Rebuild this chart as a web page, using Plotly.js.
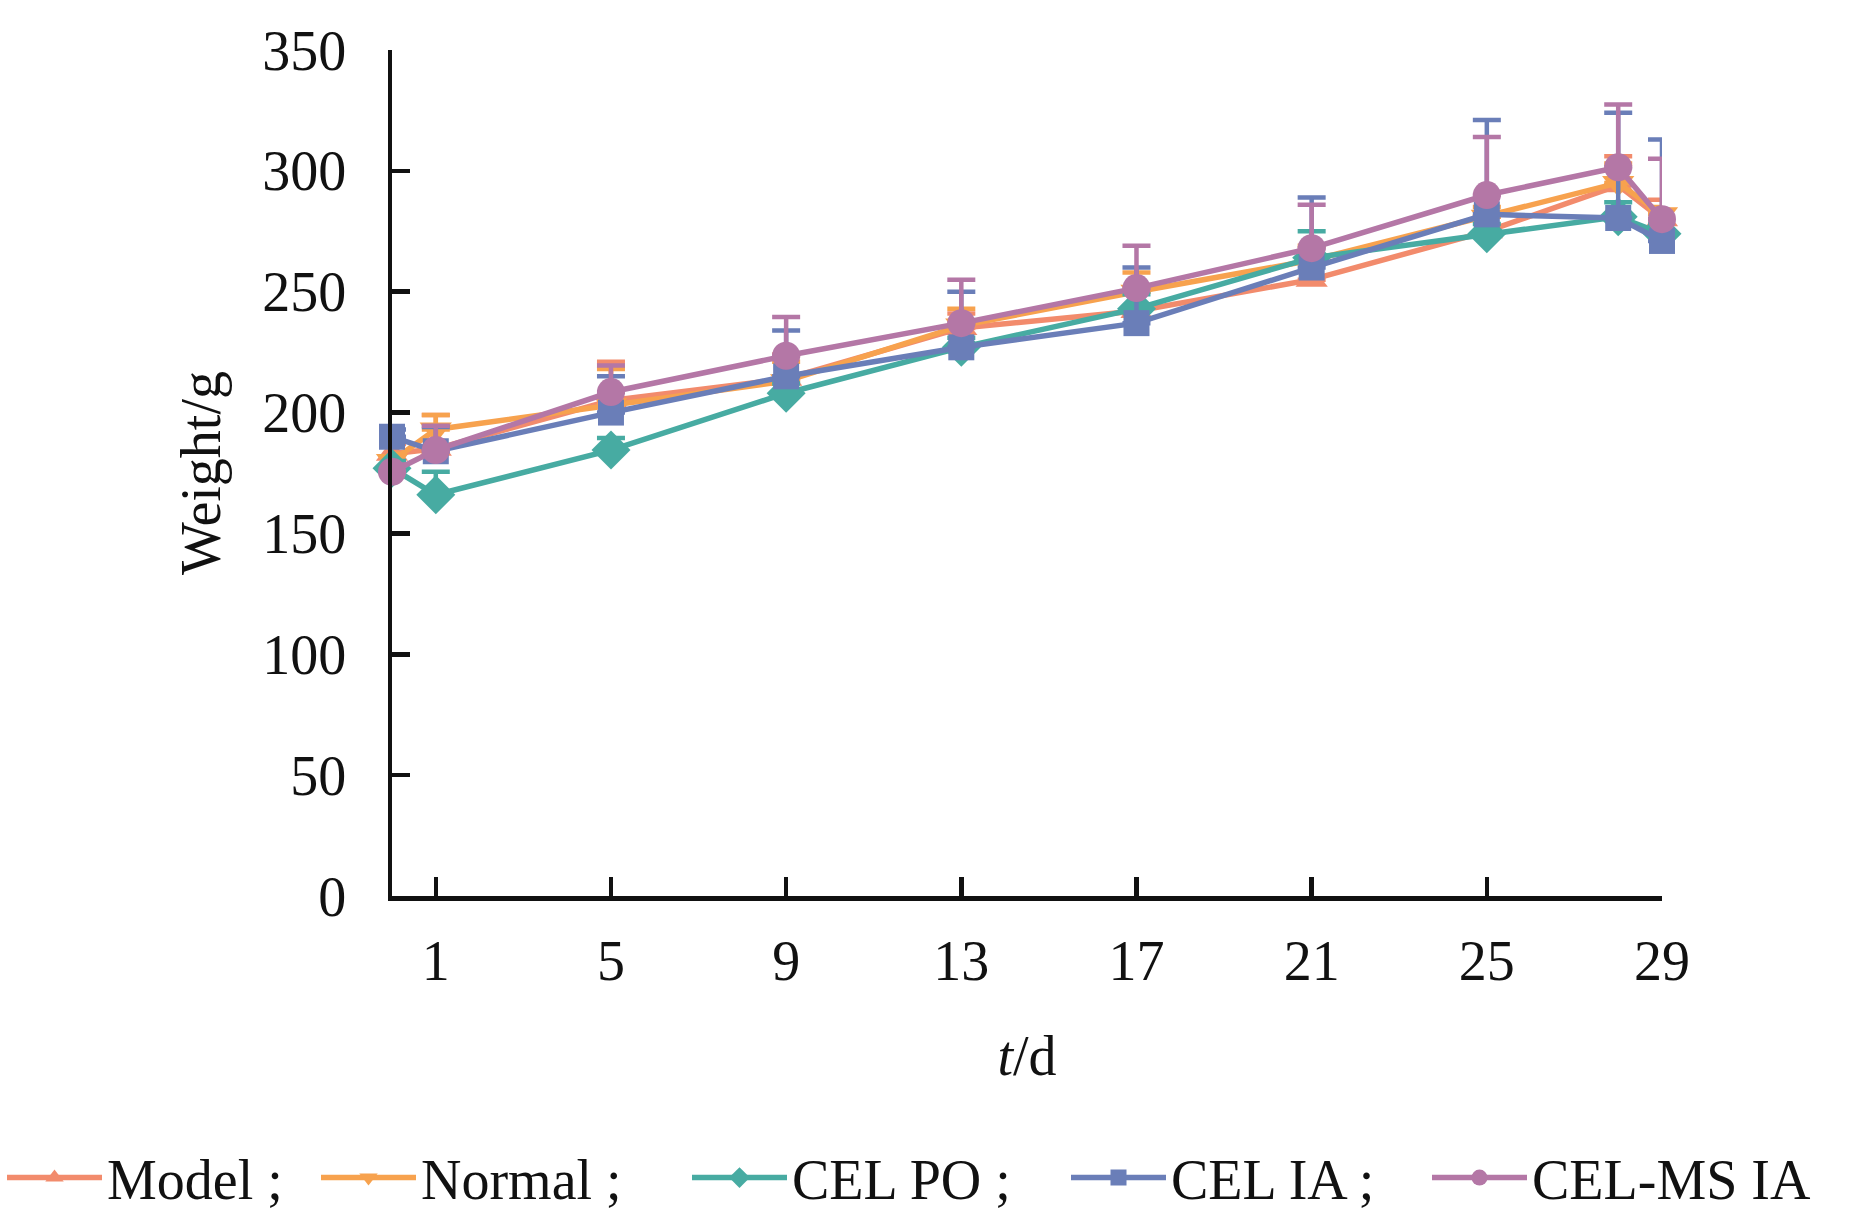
<!DOCTYPE html>
<html>
<head>
<meta charset="utf-8">
<script src="https://cdn.plot.ly/plotly-3.0.1.min.js"></script>
<style>html,body{margin:0;padding:0;background:#fff;}#chart{width:1866px;height:1228px;}</style>
</head>
<body>
<div id="chart"></div>
<script>
var days = [0, 1, 5, 9, 13, 17, 21, 25, 28, 29];
var seriesNames = ["Model ;", "Normal ;", "CEL PO ;", "CEL IA ;", "CEL-MS IA"];
var modelWeight  = [183, 185, 205, 214, 235, 242, 255, 275, 294, 280];
var modelErr     = [4, 14, 16, 10, 6, 8, 8, 6, 12, 8];
var normalWeight = [180, 193, 203, 213, 236, 250, 263, 281, 295, 282];
var normalErr    = [3, 6, 15, 8, 7, 8, 6, 4, 8, 3];
var poWeight     = [177, 166, 184.5, 208, 227, 243, 264, 274, 281, 274];
var poErr        = [3, 9.5, 5, 4, 4, 6, 11, 4, 6, 4];
var iaWeight     = [190, 184, 200, 215, 227, 237, 260, 282, 280.5, 271];
var iaErr        = [3, 10, 15, 19, 23, 23, 29, 39, 43.5, 42];
var msWeight     = [175.5, 184.5, 208.5, 223.5, 237, 251.5, 268, 290, 301.5, 280];
var msErr        = [3, 10, 11, 16, 18, 17.5, 18, 24, 26, 25];
var xTicks = [1, 5, 9, 13, 17, 21, 25, 29];
var yTicks = [0, 50, 100, 150, 200, 250, 300, 350];

var colors = ["#F28B6C", "#F7A24E", "#47ABA2", "#6A7EB8", "#B477A6"];
var symbols = ["triangle-up", "triangle-down", "diamond", "square", "circle"];
var sizes = [28, 28, 30, 26, 28];
var legendX = [2, 316, 687, 1066, 1427];
var ys = [modelWeight, normalWeight, poWeight, iaWeight, msWeight];
var errs = [modelErr, normalErr, poErr, iaErr, msErr];
var legendIds = ["legend", "legend2", "legend3", "legend4", "legend5"];

var traces = ys.map(function (y, i) {
  return {
    x: days, y: y, name: seriesNames[i], type: "scatter", mode: "lines+markers",
    legend: legendIds[i],
    line: {color: colors[i], width: 5.5},
    marker: {color: colors[i], symbol: symbols[i], size: sizes[i]},
    error_y: {type: "data", array: errs[i], arrayminus: days.map(function(){return 0;}),
              symmetric: false, color: colors[i], thickness: 4.5, width: 14},
    cliponaxis: false
  };
});

var font = {family: "Liberation Serif, Times New Roman, serif", size: 56, color: "#111"};
var layout = {
  width: 1866, height: 1228,
  paper_bgcolor: "#fff", plot_bgcolor: "#fff",
  font: font,
  margin: {l: 392, r: 204, t: 50, b: 332},
  showlegend: true,
  xaxis: {
    range: [0, 29], tickvals: xTicks, ticktext: xTicks.map(String),
    showgrid: false, zeroline: false, showline: true, linecolor: "#111", linewidth: 4.5,
    ticks: "inside", ticklen: 19, tickwidth: 4.5, tickcolor: "#111",
    ticklabelstandoff: 12,
    title: {text: "<i>t</i>/d", font: font, standoff: 46}
  },
  yaxis: {
    range: [0, 350], tickvals: yTicks, ticktext: yTicks.map(String),
    showgrid: false, zeroline: false, showline: true, linecolor: "#111", linewidth: 4.5,
    ticks: "inside", ticklen: 18, tickwidth: 4.5, tickcolor: "#111",
    ticklabelstandoff: 30,
    title: {text: "Weight/g", font: font, standoff: 25}
  }
};
legendIds.forEach(function (id, i) {
  layout[id] = {
    orientation: "h", xref: "container", yref: "container",
    x: legendX[i] / 1866, xanchor: "left", y: 0.041, yanchor: "middle",
    font: font, itemwidth: 95, bgcolor: "rgba(0,0,0,0)"
  };
});
Plotly.newPlot("chart", traces, layout, {displayModeBar: false, staticPlot: true});
</script>
</body>
</html>
